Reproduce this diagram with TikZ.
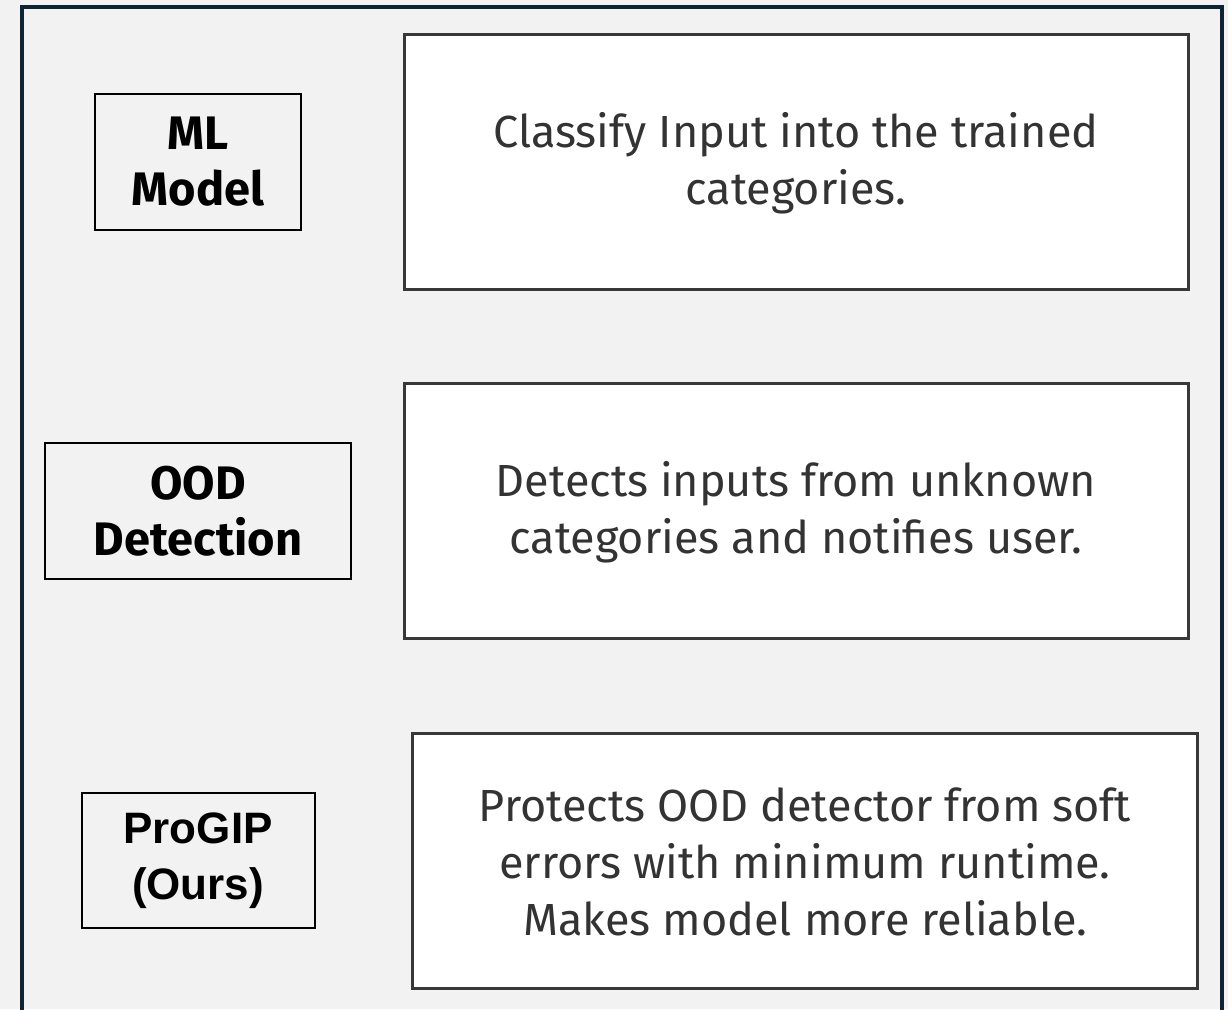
\documentclass[tikz,border=0pt]{standalone}
\usepackage{fontspec}
\setmainfont{Fira Sans}
\newfontfamily\arialb{Liberation Sans}
\definecolor{bgc}{HTML}{F2F2F2}
\definecolor{framec}{HTML}{0C2433}
\definecolor{boxc}{HTML}{383838}
\definecolor{txtc}{HTML}{333333}
\tikzset{
  descbox/.style={draw=boxc, line width=3pt, fill=white},
  labbox/.style={draw=black, line width=1.5pt},
  desctext/.style={align=center, text=txtc, font=\fontsize{45}{57}\selectfont},
  labtext/.style={align=center, text=black, font=\fontsize{47}{56}\selectfont\bfseries},
}
\begin{document}
\begin{tikzpicture}[x=1pt,y=-1pt]
\useasboundingbox (0,0) rectangle (1228,1009);
\fill[bgc] (0,0) rectangle (1228,1009);
\begin{scope}
\clip (0,0) rectangle (1228,1009);
\draw[framec, line width=4pt] (22,7) rectangle (1222,1030);
\end{scope}
% left label boxes
\draw[labbox] (95,94) rectangle (301,230);
\draw[labbox] (45,443) rectangle (351,579);
\draw[labbox] (82,793) rectangle (315,928);
\node[labtext] (ml) at (198,162) {ML\\Model};
\node[labtext] (ood) at (198,511) {OOD\\Detection};
\node[labtext, font=\fontsize{44}{56}\selectfont\arialb\bfseries] (pro) at (198,861) {ProGIP\\(Ours)};
% description boxes
\draw[descbox] (404.5,34.5) rectangle (1188,289.5);
\draw[descbox] (404.5,383.5) rectangle (1188,638.5);
\draw[descbox] (412.5,733.5) rectangle (1197,988.5);
\node[desctext] (d1) at (796,163) {Classify Input into the trained\\categories.};
\node[desctext] (d2) at (796,512) {Detects inputs from unknown\\categories and notifies user.};
\node[desctext] (d3) at (805,862) {Protects OOD detector from soft\\errors with minimum runtime.\\Makes model more reliable.};
\end{tikzpicture}
\end{document}
